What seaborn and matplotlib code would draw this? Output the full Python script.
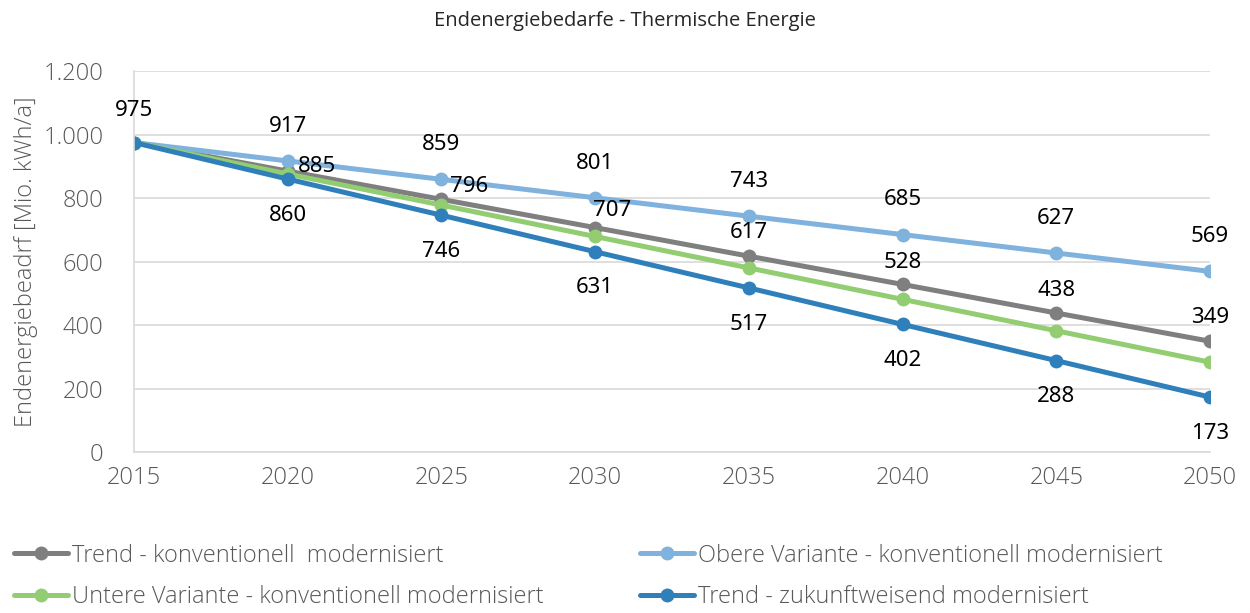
import pandas as pd
import numpy as np
import matplotlib
matplotlib.use("Agg")
import matplotlib.pyplot as plt
import seaborn as sns
from matplotlib.ticker import FuncFormatter

# ==========================
# DATA
# ==========================
years = [2015, 2020, 2025, 2030, 2035, 2040, 2045, 2050]

trend_konv = [975, 885, 796, 707, 617, 528, 438, 349]
obere_var = [975, 917, 859, 801, 743, 685, 627, 569]
untere_var = [975, 876, 778, 679, 580, 481, 382, 283]
trend_zukunft = [975, 860, 746, 631, 517, 402, 288, 173]

series_names = [
    "Trend - konventionell  modernisiert",
    "Obere Variante - konventionell modernisiert",
    "Untere Variante - konventionell modernisiert",
    "Trend - zukunftweisend modernisiert",
]
colors = ["#7f7f7f", "#7fb2dd", "#92cd72", "#2e7fba"]

df = pd.DataFrame({
    "Jahr": years * 4,
    "Wert": trend_konv + obere_var + untere_var + trend_zukunft,
    "Serie": np.repeat(series_names, len(years)),
})

# ==========================
# PLOT
# ==========================
sns.set_style("white")
plt.rcParams["font.family"] = ["Open Sans", "DejaVu Sans"]

fig = plt.figure(figsize=(12.5, 6.13), dpi=100)
ax = fig.add_axes([0.1072, 0.2626, 0.8608, 0.6214])

sns.lineplot(
    data=df, x="Jahr", y="Wert", hue="Serie",
    palette=colors, hue_order=series_names,
    marker="o", markersize=10, markeredgewidth=0,
    linewidth=3.6, ax=ax, legend=False,
)

ax.set_xlim(2015, 2050)
ax.set_ylim(0, 1200)
ax.set_xticks(years)
ax.set_yticks(range(0, 1201, 200))
ax.yaxis.set_major_formatter(FuncFormatter(lambda v, p: f"{int(v):,}".replace(",", ".")))
ax.grid(axis="y", color="#d9d9d9", linewidth=1.2)
ax.set_axisbelow(True)

for s in ["top", "right"]:
    ax.spines[s].set_visible(False)
for s in ["left", "bottom"]:
    ax.spines[s].set_color("#d9d9d9")
    ax.spines[s].set_linewidth(1.2)

ax.tick_params(axis="x", colors="#595959", labelsize=17, length=5, width=1.2,
               direction="out", pad=5)
ax.tick_params(axis="y", colors="#595959", labelsize=17, length=0, pad=22)
ax.xaxis.set_tick_params(color="#d9d9d9")
for lbl in ax.get_xticklabels() + ax.get_yticklabels():
    lbl.set_fontweight("light")
    lbl.set_color("#595959")

ax.set_xlabel("")
ax.set_ylabel("Endenergiebeadrf [Mio. kWh/a]", fontsize=17, color="#595959",
              fontweight="light", labelpad=4)
fig.text(0.5, 0.965, "Endenergiebedarfe - Thermische Energie", ha="center",
         va="center", fontsize=14.5, color="#262626")

# ==========================
# DATA LABELS
# ==========================
lab_kw = dict(textcoords="offset points", ha="center", va="center",
              fontsize=16, color="black", family=["Noto Sans", "DejaVu Sans"])

ax.annotate(str(trend_konv[0]), (years[0], trend_konv[0]), xytext=(0, 23), **lab_kw)

gray_offsets = [None, (21, 3), (20, 9), (12, 12), (0, 17), (0, 16), (0, 16), (0, 17)]
for x, y, off in zip(years, trend_konv, gray_offsets):
    if off is not None:
        ax.annotate(str(y), (x, y), xytext=off, **lab_kw)

for x, y in zip(years[1:], obere_var[1:]):
    ax.annotate(str(y), (x, y), xytext=(0, 25), **lab_kw)

for x, y in zip(years[1:], trend_zukunft[1:]):
    ax.annotate(str(y), (x, y), xytext=(0, -26), **lab_kw)

# ==========================
# LEGEND (row-major order like the original)
# ==========================
order = [0, 2, 1, 3]
leg_handles = [plt.Line2D([], [], color=colors[i], marker="o", markersize=10,
                          markeredgewidth=0, linewidth=3.6) for i in order]
leg_labels = [series_names[i] for i in order]
leg = fig.legend(
    leg_handles, leg_labels, ncol=2, loc="lower left",
    bbox_to_anchor=(0.011, 0.006), frameon=False, fontsize=17,
    borderpad=0, borderaxespad=0,
    handlelength=2.3, handletextpad=0.15, columnspacing=4.1, labelspacing=0.75,
)
for t in leg.get_texts():
    t.set_color("#595959")
    t.set_fontweight("light")

fig.savefig("out.png", dpi=100)
